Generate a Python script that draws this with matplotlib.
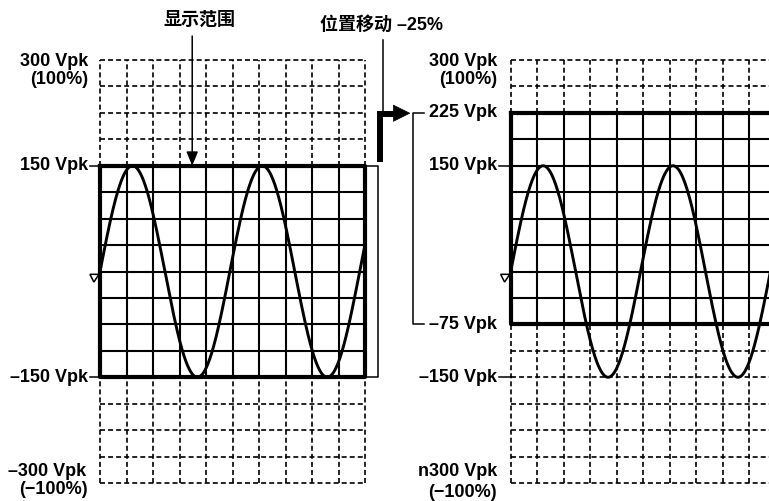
import numpy as np
import matplotlib
matplotlib.use("Agg")
import matplotlib.pyplot as plt
from matplotlib.patches import Polygon

plt.rcParams['lines.scale_dashes'] = False
FONT = ['Liberation Sans', 'Noto Sans CJK SC', 'DejaVu Sans']

# ---- data ----
n_divisions = 10                      # horizontal grid divisions
volt_per_div = 37.5                   # vertical grid step (V)
full_scale = 300                      # +/- 300 Vpk (100 %)
signal_amplitude = 150                # Vpk
signal_period_div = 4.9               # period in divisions
left_range = (-150, 150)              # displayed range, left panel
right_range = (-75, 225)              # displayed range after -25 % position shift
left_labels = [(150, "150 Vpk"), (-150, "–150 Vpk")]
right_labels = [(225, "225 Vpk"), (150, "150 Vpk"), (-75, "–75 Vpk"), (-150, "–150 Vpk")]
left_top_label = ["300 Vpk", "(100%)"]
left_bottom_label = ["–300 Vpk", "(−100%)"]
right_top_label = ["300 Vpk", "(100%)"]
right_bottom_label = ["n300 Vpk", "(−100%)"]
title_left = "显示范围"
title_shift = "位置移动 –25%"

W, H = 769, 501
fig = plt.figure(figsize=(W / 100, H / 100), dpi=100)

def px_axes(x0, y_top, w, h):
    return fig.add_axes([x0 / W, (H - y_top - h) / H, w / W, h / H])

PANEL_W = 265
PANEL_TOP = 60
PANEL_H = 423
axL = px_axes(100, PANEL_TOP, PANEL_W, PANEL_H)
axR = px_axes(510.7, PANEL_TOP, PANEL_W, PANEL_H)

xs = np.linspace(0, n_divisions, 600)
wave = signal_amplitude * np.sin(2 * np.pi * xs / signal_period_div)
levels = np.arange(-full_scale, full_scale + 1e-9, volt_per_div)
vlines = np.arange(0, n_divisions + 1)

DASH = dict(color='black', lw=1.2, dashes=(3.6, 2.2), clip_on=False)
SOLID = dict(color='black', lw=1.5, clip_on=False)
THICK = dict(color='black', lw=3.0, clip_on=False, solid_capstyle='projecting')
TXT = dict(fontsize=13, fontweight='bold', family=FONT)

def draw_panel(ax, rng):
    lo, hi = rng
    ax.set_xlim(0, n_divisions)
    ax.set_ylim(-full_scale, full_scale)
    ax.axis('off')
    # horizontal lines
    for v in levels:
        if lo < v < hi:
            ax.plot([0, n_divisions], [v, v], **SOLID)
        elif v > hi or v < lo:
            ax.plot([0, n_divisions], [v, v], **DASH)
    # vertical lines
    for x in vlines:
        if hi < full_scale:
            ax.plot([x, x], [hi, full_scale], **DASH)
        if lo > -full_scale:
            ax.plot([x, x], [-full_scale, lo], **DASH)
        if 0 < x < n_divisions:
            ax.plot([x, x], [lo, hi], **SOLID)
    # thick border of display range
    ax.plot([0, n_divisions, n_divisions, 0, 0], [hi, hi, lo, lo, hi], **THICK)
    # waveform
    ax.plot(xs, wave, color='black', lw=2.1, clip_on=False, zorder=5)
    # ground marker
    ax.add_patch(Polygon([(-0.38, -4), (-0.04, -4), (-0.23, -15)], closed=True,
                         fill=False, ec='black', lw=1.1, clip_on=False))

draw_panel(axL, left_range)
draw_panel(axR, right_range)

# ---- left panel labels ----
for v, t in left_labels:
    axL.plot([-0.38, 0], [v, v], color='black', lw=1.1, clip_on=False)
    axL.text(-0.45, v, t, ha='right', va='center', **TXT)
axL.text(-0.45, 298, left_top_label[0], ha='right', va='center', **TXT)
axL.text(-0.45, 272, left_top_label[1], ha='right', va='center', **TXT)
axL.text(-0.52, -283, left_bottom_label[0], ha='right', va='center', **TXT)
axL.text(-0.48, -309, left_bottom_label[1], ha='right', va='center', **TXT)

# ---- right panel labels ----
for v, t in right_labels:
    if v in (150, -150):
        axR.plot([-0.44, 0], [v, v], color='black', lw=1.1, clip_on=False)
    axR.text(-0.51, v, t, ha='right', va='center', **TXT)
axR.text(-0.51, 298, right_top_label[0], ha='right', va='center', **TXT)
axR.text(-0.51, 272, right_top_label[1], ha='right', va='center', **TXT)
axR.text(-0.51, -284, right_bottom_label[0], ha='right', va='center', **TXT)
axR.text(-0.51, -313, right_bottom_label[1], ha='right', va='center', **TXT)

# ---- left title + arrow ----
axL.text(3.74, 357, title_left, ha='center', va='center', **TXT)
axL.annotate('', xy=(3.48, 150), xytext=(3.48, 334),
             arrowprops=dict(arrowstyle='-|>,head_length=0.6,head_width=0.25',
                             color='black', lw=1.1,
                             mutation_scale=14, shrinkA=0, shrinkB=0),
             annotation_clip=False)

# ---- bracket right of left panel ----
axL.plot([n_divisions, 10.5, 10.5, n_divisions],
         [left_range[1], left_range[1], left_range[0], left_range[0]],
         color='black', lw=1.1, clip_on=False)

# ---- position shift annotation ----
axL.text(10.64, 350, title_shift, ha='center', va='center', **TXT)
axL.plot([10.67, 10.67], [328, 226], color='black', lw=1.1, clip_on=False)
axL.plot([10.58, 10.58, 11.1], [155, 224, 224], color='black', lw=4.3,
         clip_on=False, solid_joinstyle='miter', solid_capstyle='butt')
axL.add_patch(Polygon([(11.07, 236), (11.07, 213), (11.69, 224.5)], closed=True,
                      fc='black', ec='black', lw=0.5, clip_on=False))

# ---- bracket left of right panel ----
axR.plot([-3.27, -3.67, -3.67, -3.27],
         [right_range[1], right_range[1], right_range[0], right_range[0]],
         color='black', lw=1.1, clip_on=False)

fig.savefig("out.png", dpi=100, facecolor='white')
